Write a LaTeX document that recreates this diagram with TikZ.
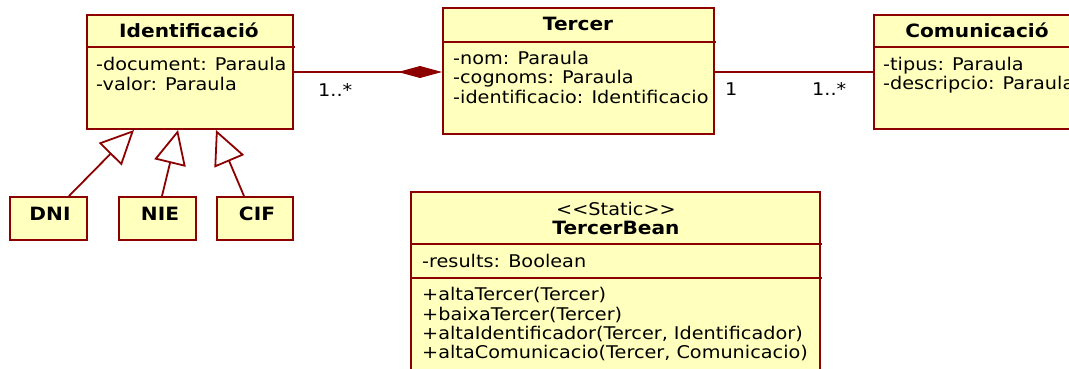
\documentclass[tikz,border=0pt]{standalone}
\usepackage{fontspec}
\setmainfont{DejaVu Sans}[FakeStretch=1.1]
\usetikzlibrary{arrows.meta,calc}
\definecolor{umlline}{RGB}{140,0,0}
\definecolor{umlfill}{RGB}{255,255,190}
\begin{document}
\begin{tikzpicture}[x=1pt,y=-1pt,
  cls/.style={draw=umlline, fill=umlfill, line width=2pt, inner sep=0pt, anchor=north west},
  sep/.style={draw=umlline, line width=2pt},
  txt/.style={inner sep=0pt, anchor=base west, font=\fontsize{17.5}{19.5}\selectfont},
  ctxt/.style={inner sep=0pt, anchor=base, font=\fontsize{17.5}{19.5}\selectfont},
  ttl/.style={inner sep=0pt, anchor=base, font=\fontsize{18.3}{20}\selectfont\bfseries},
  conn/.style={draw=umlline, line width=1.8pt},
  gen/.style={conn, -{Triangle[open, length=34pt, width=32pt]}},
  comp/.style={conn, -{Diamond[length=44pt, width=12pt, fill=umlline]}}]
\useasboundingbox (0,0) rectangle (1069,369);

% class boxes
\node[cls, minimum width=206pt, minimum height=114pt] (ident) at (86,14) {};
\node[cls, minimum width=271pt, minimum height=126pt] (tercer) at (442,7) {};
\node[cls, minimum width=208pt, minimum height=114pt] (comun) at (873,14) {};
\node[cls, minimum width=77pt, minimum height=43pt] (dni) at (9,196) {};
\node[cls, minimum width=77pt, minimum height=43pt] (nie) at (118,196) {};
\node[cls, minimum width=76pt, minimum height=43pt] (cif) at (216,196) {};
\node[cls, minimum width=409pt, minimum height=190pt] (bean) at (410,191) {};

% compartment separators
\draw[sep] (ident.north west) ++(0,33) -- ++(209,0);
\draw[sep] (tercer.north west) ++(0,35) -- ++(274,0);
\draw[sep] (comun.north west) ++(0,33) -- ++(211,0);
\draw[sep] (bean.north west) ++(0,53) -- ++(412,0);
\draw[sep] (bean.north west) ++(0,87) -- ++(412,0);

% texts
\node[ttl] (identT) at (189,37.3) {Identificació};
\node[txt] (identA1) at (96,70.7) {-document: Paraula};
\node[txt] (identA2) at (96,90.5) {-valor: Paraula};

\node[ttl] (tercerT) at (578,30.7) {Tercer};
\node[txt] (tercerA1) at (453,64.3) {-nom: Paraula};
\node[txt] (tercerA2) at (453,83.6) {-cognoms: Paraula};
\node[txt] (tercerA3) at (453,103) {-identificacio: Identificacio};

\node[ttl] (comunT) at (977,37.3) {Comunicació};
\node[txt] (comunA1) at (883,70.3) {-tipus: Paraula};
\node[txt] (comunA2) at (883,89.6) {-descripcio: Paraula};

\node[ttl] (dniT) at (50,220) {DNI};
\node[ttl] (nieT) at (160,220) {NIE};
\node[ttl] (cifT) at (257,220) {CIF};

\node[ctxt] (beanS) at (616,215) {<{}<Static>{}>};
\node[ttl] (beanT) at (616,234.3) {TercerBean};
\node[txt] (beanA1) at (422,267.3) {-results: Boolean};
\node[txt] (beanM1) at (422,300.7) {+altaTercer(Tercer)};
\node[txt] (beanM2) at (422,320) {+baixaTercer(Tercer)};
\node[txt] (beanM3) at (422,339.3) {+altaIdentificador(Tercer, Identificador)};
\node[txt] (beanM4) at (422,358.3) {+altaComunicacio(Tercer, Comunicacio)};

% associations
\draw[comp] (ident.east) -- (ident.east -| tercer.west);
\draw[conn] (comun.west -| tercer.east) -- (comun.west);
\node[txt] (m1) at (318,96.7) {1..*};
\node[txt] (m2) at (725,95.5) {1};
\node[txt] (m3) at (812,95.5) {1..*};

% generalizations
\draw[gen] ([xshift=20.5pt]dni.north) -- ([xshift=-56pt]ident.south);
\draw[gen] ([xshift=4.5pt]nie.north) -- ([xshift=-12pt]ident.south);
\draw[gen] ([xshift=-11pt]cif.north) -- ([xshift=26pt]ident.south);
\end{tikzpicture}
\end{document}
